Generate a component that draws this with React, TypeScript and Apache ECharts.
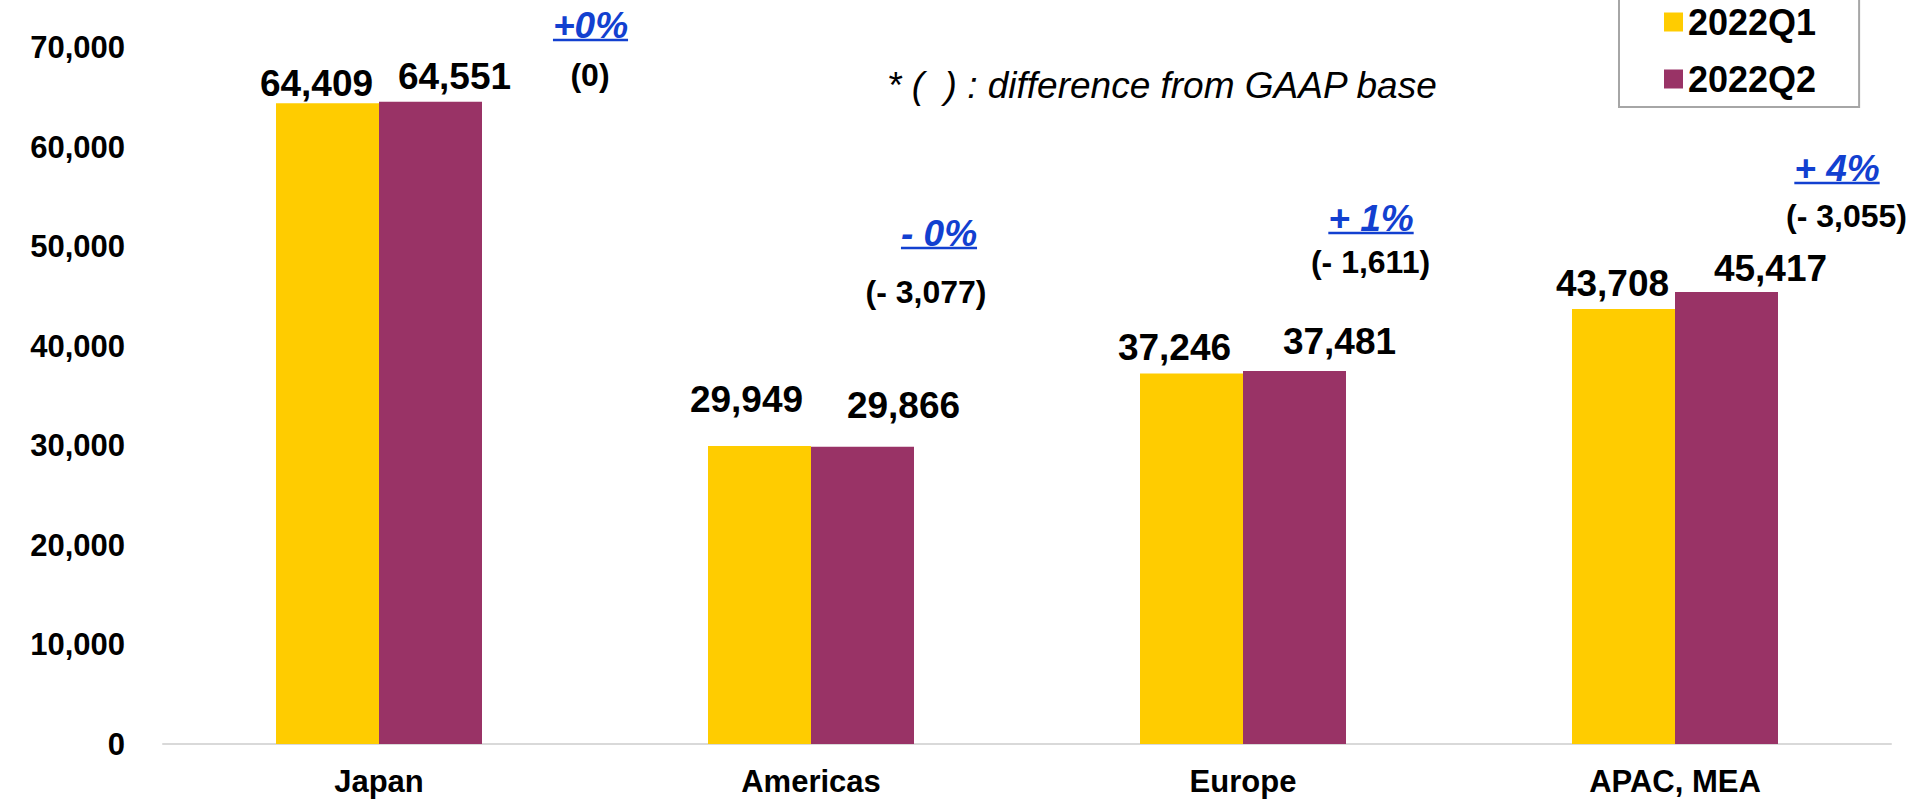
import React, { useEffect, useRef } from "react";
import * as echarts from "echarts";

// ---- data ----
const categories = ["Japan", "Americas", "Europe", "APAC, MEA"];
const seriesNames = ["2022Q1", "2022Q2"];
const q1Values = [64409, 29949, 37246, 43708];
const q2Values = [64551, 29866, 37481, 45417];
const changeLabels = ["+0%", "- 0%", "+ 1%", "+ 4%"];
const gaapDiffLabels = ["(0)", "(- 3,077)", "(- 1,611)", "(- 3,055)"];
const noteText = "* (  ) : difference from GAAP base";
const yMin = 0;
const yMax = 70000;
const yInterval = 10000;

// ---- layout (label nudges, annotation placement) ----
const q1LabelOffsets = [[-11, 3.5], [-13, -23.5], [-17, -2.5], [-11, -2.5]];
const q2LabelOffsets = [[24, -1.5], [41, -17.5], [45, -6.5], [44, -0.5]];
const changePos = [[211.5, 25], [128, 233], [128, 218], [162, 168]];
const diffPos = [[211, 75], [115, 292], [127.5, 262], [171.5, 216]];

const FONT = "'Liberation Sans', Arial, Helvetica, sans-serif";
const YELLOW = "#FFCC00";
const PURPLE = "#993366";
const BLUE = "#1240D0";

function fmt(v: number) {
  return v.toLocaleString("en-US");
}

function measure(text: string, font: string) {
  const c = document.createElement("canvas");
  const ctx = c.getContext("2d");
  if (!ctx) return text.length * 18;
  ctx.font = font;
  return ctx.measureText(text).width;
}

export default function App() {
  const ref = useRef<HTMLDivElement>(null);
  useEffect(() => {
    if (!ref.current) return;
    const chart = echarts.init(ref.current, undefined, { renderer: "svg" });
    const valueLabel = {
      show: true,
      position: "top",
      distance: 5,
      color: "#000",
      fontFamily: FONT,
      fontWeight: "bold",
      fontSize: 37,
      formatter: (p: any) => fmt(p.value),
    };
    chart.setOption({
      animation: false,
      backgroundColor: "#fff",
      grid: { left: 163, right: 24, top: 47.5, bottom: 57, containLabel: false },
      legend: {
        orient: "vertical",
        left: 1619,
        top: -10,
        padding: [14, 43, 10, 45],
        itemGap: 21,
        itemWidth: 19,
        itemHeight: 19,
        icon: "rect",
        borderColor: "#a6a6a6",
        borderWidth: 2,
        textStyle: { fontFamily: FONT, fontWeight: "bold", fontSize: 36, color: "#000", padding: [0, 0, 0, 0] },
        data: seriesNames,
      },
      xAxis: {
        type: "category",
        data: categories,
        axisLine: { show: true, lineStyle: { color: "#d9d9d9", width: 2 } },
        axisTick: { show: false },
        axisLabel: { color: "#000", fontFamily: FONT, fontWeight: "bold", fontSize: 31, margin: 22 },
      },
      yAxis: {
        type: "value",
        min: yMin,
        max: yMax,
        interval: yInterval,
        splitLine: { show: false },
        axisLine: { show: false },
        axisTick: { show: false },
        axisLabel: {
          color: "#000",
          fontFamily: FONT,
          fontWeight: "bold",
          fontSize: 31,
          margin: 38,
          formatter: (v: number) => fmt(v),
        },
      },
      series: [
        {
          name: seriesNames[0],
          type: "bar",
          barWidth: 103,
          barGap: "0%",
          itemStyle: { color: YELLOW },
          label: valueLabel,
          data: q1Values.map((v, i) => ({ value: v, label: { offset: q1LabelOffsets[i] } })),
        },
        {
          name: seriesNames[1],
          type: "bar",
          barWidth: 103,
          barGap: "0%",
          itemStyle: { color: PURPLE },
          label: valueLabel,
          data: q2Values.map((v, i) => ({ value: v, label: { offset: q2LabelOffsets[i] } })),
        },
      ],
    });

    const graphics: any[] = [];
    const blueFont = `italic bold 37px ${FONT}`;
    categories.forEach((cat, i) => {
      const cx = chart.convertToPixel({ xAxisIndex: 0 }, cat) as number;
      const [dx, cy] = changePos[i];
      const w = measure(changeLabels[i], blueFont);
      graphics.push({
        type: "text",
        x: cx + dx,
        y: cy,
        style: {
          text: changeLabels[i],
          fill: BLUE,
          fontFamily: FONT,
          fontWeight: "bold",
          fontStyle: "italic",
          fontSize: 37,
          align: "center",
          verticalAlign: "middle",
        },
      });
      graphics.push({
        type: "line",
        shape: { x1: cx + dx - w / 2, y1: cy + 15, x2: cx + dx + w / 2, y2: cy + 15 },
        style: { stroke: BLUE, lineWidth: 2.5 },
      });
      const [ddx, dcy] = diffPos[i];
      graphics.push({
        type: "text",
        x: cx + ddx,
        y: dcy,
        style: {
          text: gaapDiffLabels[i],
          fill: "#000",
          fontFamily: FONT,
          fontWeight: "bold",
          fontSize: 32,
          align: "center",
          verticalAlign: "middle",
        },
      });
    });
    graphics.push({
      type: "text",
      x: 887,
      y: 85.5,
      style: {
        text: noteText,
        fill: "#000",
        fontFamily: FONT,
        fontStyle: "italic",
        fontSize: 37,
        align: "left",
        verticalAlign: "middle",
      },
    });
    chart.setOption({ graphic: graphics });

    return () => chart.dispose();
  }, []);

  return (
    <div
      ref={ref}
      style={{ position: "fixed", left: 0, top: 0, width: 1915, height: 801, background: "#fff" }}
    />
  );
}
